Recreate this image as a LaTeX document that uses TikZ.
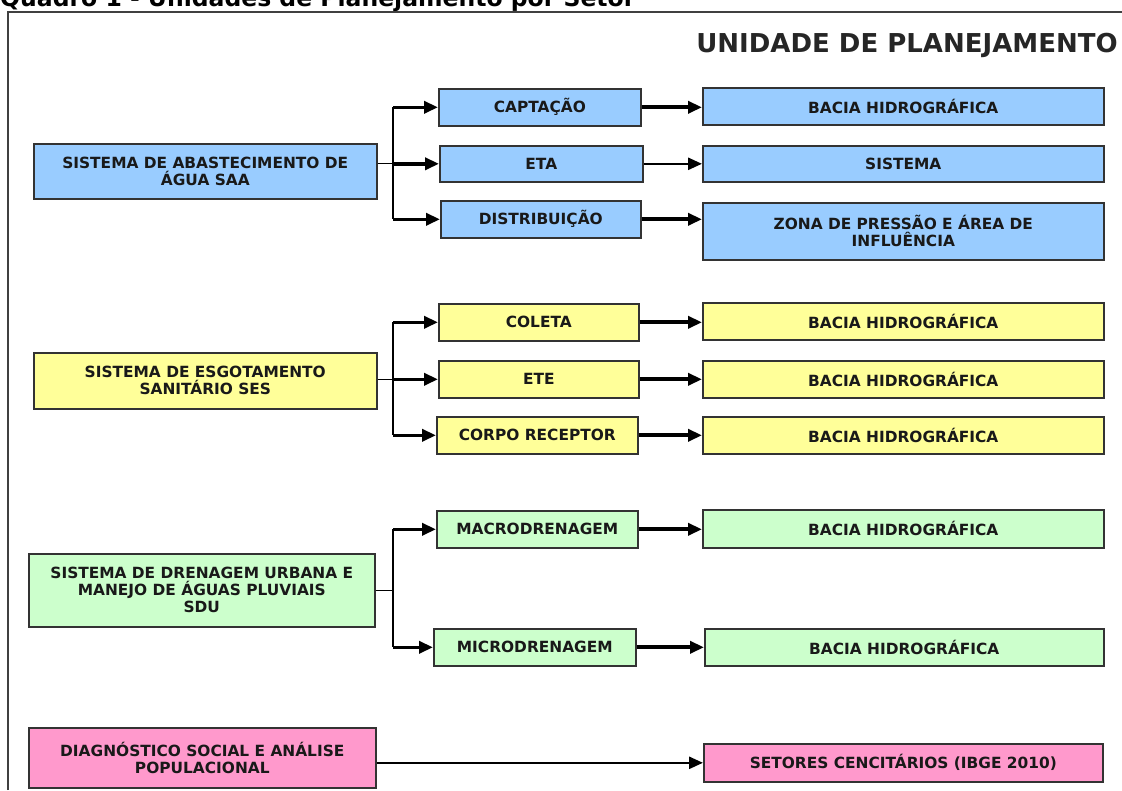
\documentclass[tikz,border=0pt]{standalone}
\usepackage{fontspec}
\setmainfont{DejaVu Sans}
\usepackage{xcolor}
\usetikzlibrary{arrows.meta,positioning}

\definecolor{saablue}{HTML}{99CCFF}
\definecolor{sesyellow}{HTML}{FFFF99}
\definecolor{sdugreen}{HTML}{CCFFCC}
\definecolor{diagpink}{HTML}{FF99CC}

\tikzset{
	box/.style={draw=black!80, line width=1.6pt, fill=#1, inner sep=0pt, anchor=north west,
		align=center, text=black!90, font=\fontsize{15.4}{17}\selectfont\bfseries},
	stem/.style={line width=1.3pt},
	trunk/.style={line width=1.8pt},
	branch/.style={line width=3.5pt, -{Triangle[length=14pt,width=12pt]}},
	link/.style={line width=4pt, -{Triangle[length=14pt,width=12pt]}},
	thinlink/.style={line width=2.6pt, -{Triangle[length=14pt,width=12pt]}}
}

\begin{document}
\begin{tikzpicture}[x=1pt,y=-1pt]
	\useasboundingbox (0,0) rectangle (1122,790);
	
	% caption and frame
	\node[anchor=base west, inner sep=0pt, font=\fontsize{23.5}{28}\selectfont\bfseries] (quadro) at (0,6.5) {Quadro 1 - Unidades de Planejamento por Setor};
	\draw[line width=1.5pt, black!75] (8,790) -- (8,12) -- (1122,12);
	\node[font=\fontsize{26}{30}\selectfont\bfseries, text=black!85] (unidade) at (907,45) {UNIDADE DE PLANEJAMENTO};
	
	% abastecimento de agua
	\node[box=saablue, minimum width=343pt, minimum height=55pt] (saa) at (33,143) {SISTEMA DE ABASTECIMENTO DE\\ÁGUA SAA};
	\node[box=saablue, minimum width=202pt, minimum height=37pt] (capt) at (438,88) {CAPTAÇÃO};
	\node[box=saablue, minimum width=203pt, minimum height=36pt] (eta) at (439,145) {ETA};
	\node[box=saablue, minimum width=200pt, minimum height=37pt] (dist) at (440,200) {DISTRIBUIÇÃO};
	\node[box=saablue, minimum width=401pt, minimum height=37pt] (baciaA) at (702,87) {BACIA HIDROGRÁFICA};
	\node[box=saablue, minimum width=401pt, minimum height=36pt] (sist) at (702,145) {SISTEMA};
	\node[box=saablue, minimum width=401pt, minimum height=57pt] (zona) at (702,202) {ZONA DE PRESSÃO E ÁREA DE\\INFLUÊNCIA};
	
	% esgotamento sanitario
	\node[box=sesyellow, minimum width=343pt, minimum height=56pt] (ses) at (33,352) {SISTEMA DE ESGOTAMENTO\\SANITÁRIO SES};
	\node[box=sesyellow, minimum width=200pt, minimum height=37pt] (coleta) at (438,303) {COLETA};
	\node[box=sesyellow, minimum width=200pt, minimum height=37pt] (ete) at (438,360) {ETE};
	\node[box=sesyellow, minimum width=201pt, minimum height=37pt] (corpo) at (436,416) {CORPO RECEPTOR};
	\node[box=sesyellow, minimum width=401pt, minimum height=37pt] (baciaB) at (702,302) {BACIA HIDROGRÁFICA};
	\node[box=sesyellow, minimum width=401pt, minimum height=37pt] (baciaC) at (702,360) {BACIA HIDROGRÁFICA};
	\node[box=sesyellow, minimum width=401pt, minimum height=37pt] (baciaD) at (702,416) {BACIA HIDROGRÁFICA};
	
	% drenagem urbana
	\node[box=sdugreen, minimum width=346pt, minimum height=73pt] (sdu) at (28,553) {SISTEMA DE DRENAGEM URBANA E\\MANEJO DE ÁGUAS PLUVIAIS\\SDU};
	\node[box=sdugreen, minimum width=201pt, minimum height=37pt] (macro) at (436,510) {MACRODRENAGEM};
	\node[box=sdugreen, minimum width=202pt, minimum height=37pt] (micro) at (433,628) {MICRODRENAGEM};
	\node[box=sdugreen, minimum width=401pt, minimum height=38pt] (baciaE) at (702,509) {BACIA HIDROGRÁFICA};
	\node[box=sdugreen, minimum width=399pt, minimum height=37pt] (baciaF) at (704,628) {BACIA HIDROGRÁFICA};
	
	% diagnostico social
	\node[box=diagpink, minimum width=347pt, minimum height=60pt] (diag) at (28,727) {DIAGNÓSTICO SOCIAL E ANÁLISE\\POPULACIONAL};
	\node[box=diagpink, minimum width=399pt, minimum height=38pt] (setor) at (703,743) {SETORES CENCITÁRIOS (IBGE 2010)};
	
	% junctions
	\coordinate (jA) at (393,0);
	
	% branching arrows
	\draw[trunk] (jA |- capt.west) -- (jA |- dist.west);
	\draw[trunk] (jA |- coleta.west) -- (jA |- corpo.west);
	\draw[trunk] (jA |- macro.west) -- (jA |- micro.west);
	\draw[stem] (saa.east |- eta.west) -- (jA |- eta.west);
	\draw[stem] (ses.east |- ete.west) -- (jA |- ete.west);
	\draw[stem] (sdu.east) -- (jA |- sdu.east);
	\foreach \n in {capt,eta,dist,coleta,ete,corpo,macro,micro}{
		\draw[branch] (jA |- \n.west) -- (\n.west);
	}
	
	% unit arrows
	\foreach \a/\b in {capt/baciaA,dist/zona,coleta/baciaB,ete/baciaC,corpo/baciaD,macro/baciaE,micro/baciaF}{
		\draw[link] (\a.east) -- (\a.east -| \b.west);
	}
	\draw[thinlink] (eta.east) -- (eta.east -| sist.west);
	\draw[thinlink] (diag.east |- setor.west) -- (setor.west);
\end{tikzpicture}
\end{document}
